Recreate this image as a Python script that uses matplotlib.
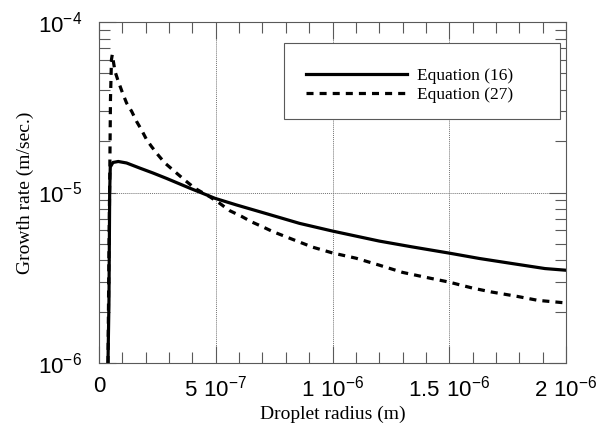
import numpy as np
import matplotlib
matplotlib.use("Agg")
from matplotlib import pyplot as plt
from matplotlib.ticker import FixedLocator, MultipleLocator, LogLocator, NullFormatter
from matplotlib.patches import Rectangle


# Values
radius_16 = [3.85e-8, 4.27e-8, 4.57e-8, 4.83e-8, 5.98e-8, 8.25e-8, 1.18e-7, 1.75e-7,
             2.32e-7, 2.89e-7, 3.89e-7, 4.44e-7, 4.96e-7, 5.89e-7, 7.22e-7, 8.59e-7,
             1.0e-6, 1.20e-6, 1.34e-6, 1.50e-6, 1.63e-6, 1.77e-6, 1.91e-6, 2.0e-6]
rate_16 = [1.0e-6, 2.33e-6, 1.0e-5, 1.41e-5, 1.50e-5, 1.52e-5, 1.49e-5, 1.39e-5,
           1.30e-5, 1.21e-5, 1.06e-5, 0.989e-5, 0.925e-5, 0.845e-5, 0.748e-5, 0.659e-5,
           0.594e-5, 0.519e-5, 0.480e-5, 0.441e-5, 0.410e-5, 0.383e-5, 0.358e-5, 0.350e-5]

radius_27 = [3.85e-8, 4.27e-8, 4.62e-8, 4.91e-8, 5.34e-8, 5.68e-8, 6.84e-8, 8.25e-8,
             1.01e-7, 1.18e-7, 1.40e-7, 1.61e-7, 1.82e-7, 2.04e-7, 2.25e-7, 2.53e-7,
             2.82e-7, 3.32e-7, 3.68e-7, 4.10e-7, 4.74e-7, 5.17e-7, 5.60e-7, 6.10e-7,
             6.53e-7, 7.01e-7, 7.44e-7, 8.46e-7, 9.15e-7, 1.0e-6, 1.10e-6, 1.20e-6,
             1.30e-6, 1.40e-6, 1.50e-6, 1.60e-6, 1.68e-6, 1.79e-6, 1.88e-6, 2.0e-6]
rate_27 = [1.0e-6, 4.59e-6, 1.30e-5, 3.50e-5, 6.02e-5, 6.44e-5, 5.14e-5, 4.49e-5,
           3.83e-5, 3.35e-5, 2.99e-5, 2.61e-5, 2.33e-5, 2.04e-5, 1.86e-5, 1.66e-5,
           1.49e-5, 1.30e-5, 1.18e-5, 1.06e-5, 0.945e-5, 0.864e-5, 0.782e-5, 0.725e-5,
           0.673e-5, 0.629e-5, 0.590e-5, 0.520e-5, 0.478e-5, 0.442e-5, 0.412e-5, 0.375e-5,
           0.340e-5, 0.318e-5, 0.298e-5, 0.275e-5, 0.261e-5, 0.246e-5, 0.233e-5, 0.225e-5]

x_ticks = [0, 5e-7, 1e-6, 1.5e-6, 2e-6]
x_labels = ["0", "$\\mathregular{5\\ 10^{-7}}$", "$\\mathregular{1\\ 10^{-6}}$",
            "$\\mathregular{1.5\\ 10^{-6}}$", "$\\mathregular{2\\ 10^{-6}}$"]
y_ticks = [1e-6, 1e-5, 1e-4]
y_labels = ["$\\mathregular{10^{-6}}$", "$\\mathregular{10^{-5}}$", "$\\mathregular{10^{-4}}$"]

legend_labels = ["Equation (16)", "Equation (27)"]


plt.rcParams['font.family'] = 'Liberation Sans'
plt.rcParams['mathtext.fontset'] = 'custom'
plt.rcParams['mathtext.rm'] = 'Liberation Sans'
serif = 'Liberation Serif'
frame_col = '0.35'

fig = plt.figure(figsize=(6.01, 4.33), dpi=100)
ax = fig.add_axes([99/601, 70/433, 467/601, 341/433])

l1, = ax.plot(radius_16, rate_16, color='black', lw=2.3, solid_joinstyle='round')
l2, = ax.plot(radius_27, rate_27, color='black', lw=2.3, linestyle=(0, (2.2, 1.9)))

ax.set_yscale('log')
ax.set_xlim(0, 2e-6)
ax.set_ylim(1e-6, 1e-4)

ax.xaxis.set_major_locator(FixedLocator(x_ticks))
ax.set_xticklabels(x_labels)
ax.xaxis.set_minor_locator(MultipleLocator(1e-7))
ax.set_yticks(y_ticks)
ax.set_yticklabels(y_labels)
ax.yaxis.set_minor_locator(LogLocator(base=10, subs=np.arange(2, 10)))
ax.yaxis.set_minor_formatter(NullFormatter())

ax.tick_params(which='both', direction='in', top=True, right=True, color=frame_col, width=0.8)
ax.tick_params(which='major', length=12, labelsize=16)
ax.tick_params(which='minor', length=8)
ax.tick_params(axis='x', which='major', pad=9)
ax.tick_params(axis='y', which='major', pad=12)

for s in ax.spines.values():
    s.set_color(frame_col)
    s.set_linewidth(0.8)

ax.grid(True, which='major', color='0.45', linestyle=(0, (1, 1)), linewidth=0.7)

ax.set_xlabel("Droplet radius (m)", family=serif, fontsize=14, labelpad=3)
ax.set_ylabel("Growth rate (m/sec.)", family=serif, fontsize=14, labelpad=3)

# legend box drawn by hand, entries placed inside it
ax.add_patch(Rectangle((0.396, 0.716), 0.591, 0.222, transform=ax.transAxes,
                       fill=True, facecolor='white', edgecolor=frame_col, lw=0.8, zorder=4))
leg = ax.legend([l1, l2], legend_labels, loc='upper left', bbox_to_anchor=(0.443, 0.865),
                frameon=False, borderpad=0, borderaxespad=0, handlelength=5.8,
                handletextpad=0.6, labelspacing=0.15, prop={'family': serif, 'size': 12.5})
leg.set_zorder(5)

fig.savefig("out.png", dpi=100)
